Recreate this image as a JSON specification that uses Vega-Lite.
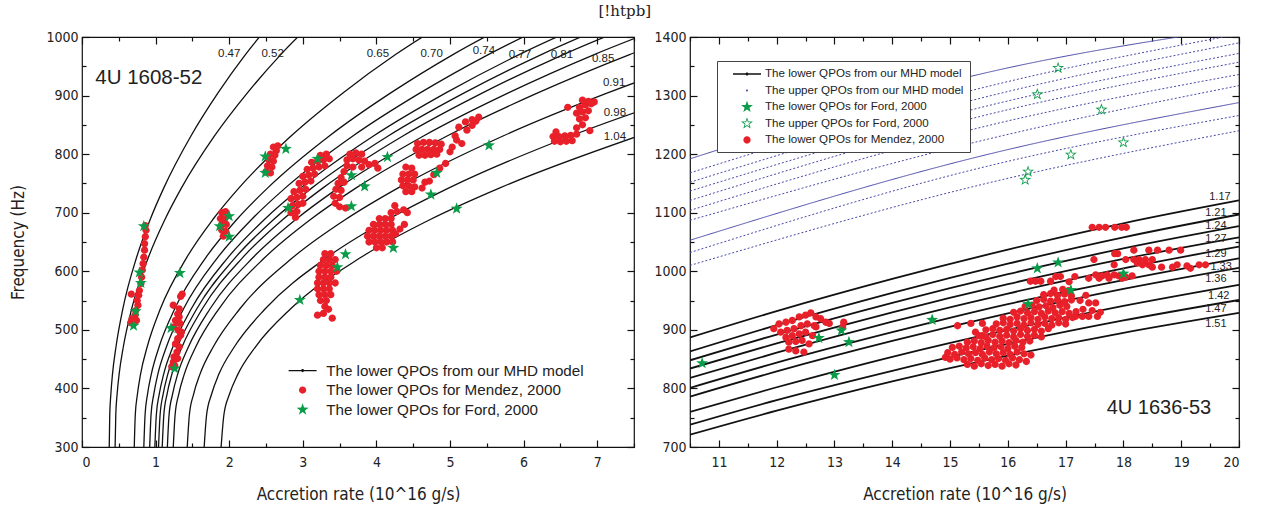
{
"$schema": "https://vega.github.io/schema/vega-lite/v6.json",
"padding": {"left": 9, "top": 4, "right": 5, "bottom": 5},
"title": {"text": "[!htpb]", "font": "DejaVu Serif", "fontSize": 15, "fontWeight": "normal", "color": "#222", "offset": 10, "anchor": "middle"},
"config": {
 "view": {"stroke": "#111", "strokeWidth": 1.2},
 "axis": {"grid": false, "domain": false, "labelFont": "Liberation Sans Narrow, DejaVu Sans Condensed, Liberation Sans", "labelFontSize": 14, "labelColor": "#222", "titleFont": "Liberation Sans Narrow, DejaVu Sans Condensed, Liberation Sans", "titleFontSize": 17, "titleFontWeight": "normal", "titleColor": "#222", "tickColor": "#111", "tickWidth": 1.2},
 "legend": {"labelFont": "Liberation Sans", "labelColor": "#222", "symbolStrokeWidth": 0, "symbolSize": 196, "labelLimit": 0}
},
"datasets": {
 "lc": [
  {"c":1,"x":0.37,"y":300},{"c":1,"x":0.377,"y":355},{"c":1,"x":0.392,"y":390},{"c":1,"x":0.414,"y":424},{"c":1,"x":0.463,"y":472},{"c":1,"x":0.555,"y":536},{"c":1,"x":0.74,"y":623},{"c":1,"x":0.925,"y":688},{"c":1,"x":1.11,"y":742},{"c":1,"x":1.48,"y":831},{"c":1,"x":1.85,"y":905},{"c":1,"x":2.22,"y":970},{"c":1,"x":2.59,"y":1027},
  {"c":2,"x":0.45,"y":300},{"c":2,"x":0.459,"y":355},{"c":2,"x":0.477,"y":390},{"c":2,"x":0.504,"y":424},{"c":2,"x":0.563,"y":472},{"c":2,"x":0.675,"y":536},{"c":2,"x":0.9,"y":623},{"c":2,"x":1.125,"y":688},{"c":2,"x":1.35,"y":742},{"c":2,"x":1.8,"y":831},{"c":2,"x":2.25,"y":905},{"c":2,"x":2.7,"y":970},{"c":2,"x":3.15,"y":1027},
  {"c":3,"x":0.71,"y":300},{"c":3,"x":0.724,"y":355},{"c":3,"x":0.753,"y":390},{"c":3,"x":0.795,"y":424},{"c":3,"x":0.888,"y":472},{"c":3,"x":1.065,"y":536},{"c":3,"x":1.42,"y":623},{"c":3,"x":1.775,"y":688},{"c":3,"x":2.13,"y":742},{"c":3,"x":2.84,"y":831},{"c":3,"x":3.55,"y":905},{"c":3,"x":4.26,"y":970},{"c":3,"x":4.97,"y":1027},
  {"c":4,"x":0.84,"y":300},{"c":4,"x":0.857,"y":355},{"c":4,"x":0.89,"y":390},{"c":4,"x":0.941,"y":424},{"c":4,"x":1.05,"y":472},{"c":4,"x":1.26,"y":536},{"c":4,"x":1.68,"y":623},{"c":4,"x":2.1,"y":688},{"c":4,"x":2.52,"y":742},{"c":4,"x":3.36,"y":831},{"c":4,"x":4.2,"y":905},{"c":4,"x":5.04,"y":970},{"c":4,"x":5.88,"y":1027},
  {"c":5,"x":0.92,"y":300},{"c":5,"x":0.938,"y":355},{"c":5,"x":0.975,"y":390},{"c":5,"x":1.03,"y":424},{"c":5,"x":1.15,"y":472},{"c":5,"x":1.38,"y":536},{"c":5,"x":1.84,"y":623},{"c":5,"x":2.3,"y":688},{"c":5,"x":2.76,"y":742},{"c":5,"x":3.68,"y":831},{"c":5,"x":4.6,"y":905},{"c":5,"x":5.52,"y":970},{"c":5,"x":6.44,"y":1027},
  {"c":6,"x":0.99,"y":300},{"c":6,"x":1.01,"y":355},{"c":6,"x":1.049,"y":390},{"c":6,"x":1.109,"y":424},{"c":6,"x":1.238,"y":472},{"c":6,"x":1.485,"y":536},{"c":6,"x":1.98,"y":623},{"c":6,"x":2.475,"y":688},{"c":6,"x":2.97,"y":742},{"c":6,"x":3.96,"y":831},{"c":6,"x":4.95,"y":905},{"c":6,"x":5.94,"y":970},{"c":6,"x":6.93,"y":1027},
  {"c":7,"x":1.04,"y":300},{"c":7,"x":1.061,"y":355},{"c":7,"x":1.102,"y":390},{"c":7,"x":1.165,"y":424},{"c":7,"x":1.3,"y":472},{"c":7,"x":1.56,"y":536},{"c":7,"x":2.08,"y":623},{"c":7,"x":2.6,"y":688},{"c":7,"x":3.12,"y":742},{"c":7,"x":4.16,"y":831},{"c":7,"x":5.2,"y":905},{"c":7,"x":6.24,"y":970},{"c":7,"x":7.28,"y":1027},
  {"c":8,"x":1.09,"y":300},{"c":8,"x":1.112,"y":355},{"c":8,"x":1.155,"y":390},{"c":8,"x":1.221,"y":424},{"c":8,"x":1.363,"y":472},{"c":8,"x":1.635,"y":536},{"c":8,"x":2.18,"y":623},{"c":8,"x":2.725,"y":688},{"c":8,"x":3.27,"y":742},{"c":8,"x":4.36,"y":831},{"c":8,"x":5.45,"y":905},{"c":8,"x":6.54,"y":970},{"c":8,"x":7.63,"y":1027},
  {"c":9,"x":1.16,"y":300},{"c":9,"x":1.183,"y":355},{"c":9,"x":1.23,"y":390},{"c":9,"x":1.299,"y":424},{"c":9,"x":1.45,"y":472},{"c":9,"x":1.74,"y":536},{"c":9,"x":2.32,"y":623},{"c":9,"x":2.9,"y":688},{"c":9,"x":3.48,"y":742},{"c":9,"x":4.64,"y":831},{"c":9,"x":5.8,"y":905},{"c":9,"x":6.96,"y":970},{"c":9,"x":8.12,"y":1027},
  {"c":10,"x":1.24,"y":300},{"c":10,"x":1.265,"y":355},{"c":10,"x":1.314,"y":390},{"c":10,"x":1.389,"y":424},{"c":10,"x":1.55,"y":472},{"c":10,"x":1.86,"y":536},{"c":10,"x":2.48,"y":623},{"c":10,"x":3.1,"y":688},{"c":10,"x":3.72,"y":742},{"c":10,"x":4.96,"y":831},{"c":10,"x":6.2,"y":905},{"c":10,"x":7.44,"y":970},{"c":10,"x":8.68,"y":1027},
  {"c":11,"x":1.43,"y":300},{"c":11,"x":1.459,"y":355},{"c":11,"x":1.516,"y":390},{"c":11,"x":1.602,"y":424},{"c":11,"x":1.788,"y":472},{"c":11,"x":2.145,"y":536},{"c":11,"x":2.86,"y":623},{"c":11,"x":3.575,"y":688},{"c":11,"x":4.29,"y":742},{"c":11,"x":5.72,"y":831},{"c":11,"x":7.15,"y":905},{"c":11,"x":8.58,"y":970},
  {"c":12,"x":1.66,"y":300},{"c":12,"x":1.693,"y":355},{"c":12,"x":1.76,"y":390},{"c":12,"x":1.859,"y":424},{"c":12,"x":2.075,"y":472},{"c":12,"x":2.49,"y":536},{"c":12,"x":3.32,"y":623},{"c":12,"x":4.15,"y":688},{"c":12,"x":4.98,"y":742},{"c":12,"x":6.64,"y":831},{"c":12,"x":8.3,"y":905},
  {"c":13,"x":1.89,"y":300},{"c":13,"x":1.928,"y":355},{"c":13,"x":2.003,"y":390},{"c":13,"x":2.117,"y":424},{"c":13,"x":2.363,"y":472},{"c":13,"x":2.835,"y":536},{"c":13,"x":3.78,"y":623},{"c":13,"x":4.725,"y":688},{"c":13,"x":5.67,"y":742},{"c":13,"x":7.56,"y":831}
 ],
 "lp": [
  {"s":"me","x":0.86,"y":678},{"s":"me","x":0.87,"y":670},{"s":"me","x":0.86,"y":659},{"s":"me","x":0.85,"y":647},{"s":"me","x":0.85,"y":636},{"s":"me","x":0.84,"y":624},{"s":"me","x":0.83,"y":613},{"s":"me","x":0.82,"y":602},{"s":"me","x":0.81,"y":590},{"s":"me","x":0.8,"y":579},{"s":"me","x":0.78,"y":567},{"s":"me","x":0.77,"y":559},{"s":"me","x":0.67,"y":561},{"s":"me","x":0.75,"y":550},{"s":"me","x":0.76,"y":542},{"s":"me","x":0.73,"y":533},{"s":"me","x":0.72,"y":525},{"s":"me","x":0.68,"y":519},{"s":"me","x":0.66,"y":512},{"s":"me","x":0.74,"y":516},
  {"s":"me","x":1.36,"y":561},{"s":"me","x":1.34,"y":557},{"s":"me","x":1.24,"y":542},{"s":"me","x":1.32,"y":536},{"s":"me","x":1.3,"y":527},{"s":"me","x":1.32,"y":522},{"s":"me","x":1.27,"y":516},{"s":"me","x":1.33,"y":511},{"s":"me","x":1.25,"y":505},{"s":"me","x":1.31,"y":499},{"s":"me","x":1.35,"y":496},{"s":"me","x":1.34,"y":491},{"s":"me","x":1.3,"y":485},{"s":"me","x":1.27,"y":476},{"s":"me","x":1.32,"y":471},{"s":"me","x":1.29,"y":462},{"s":"me","x":1.25,"y":454},{"s":"me","x":1.3,"y":451},{"s":"me","x":1.24,"y":445},{"s":"me","x":1.26,"y":439},{"s":"me","x":1.22,"y":437},
  {"s":"me","x":1.9,"y":700},{"s":"me","x":1.95,"y":702},{"s":"me","x":1.88,"y":690},{"s":"me","x":1.94,"y":690},{"s":"me","x":1.9,"y":680},{"s":"me","x":1.96,"y":680},{"s":"me","x":1.9,"y":670},{"s":"me","x":1.95,"y":668},{"s":"me","x":1.92,"y":660},
  {"s":"me","x":2.6,"y":812},{"s":"me","x":2.64,"y":806},{"s":"me","x":2.56,"y":800},{"s":"me","x":2.62,"y":798},{"s":"me","x":2.54,"y":790},{"s":"me","x":2.6,"y":788},{"s":"me","x":2.52,"y":780},{"s":"me","x":2.58,"y":778},{"s":"me","x":2.5,"y":770},{"s":"me","x":2.56,"y":768},{"s":"me","x":2.66,"y":814},
  {"s":"me","x":2.9,"y":692},{"s":"me","x":2.84,"y":700},{"s":"me","x":2.92,"y":702},{"s":"me","x":2.86,"y":712},{"s":"me","x":2.94,"y":714},{"s":"me","x":3.0,"y":716},{"s":"me","x":2.84,"y":724},{"s":"me","x":2.92,"y":726},{"s":"me","x":3.0,"y":728},{"s":"me","x":2.88,"y":736},{"s":"me","x":2.96,"y":738},{"s":"me","x":3.04,"y":740},{"s":"me","x":2.95,"y":750},{"s":"me","x":3.03,"y":752},{"s":"me","x":3.11,"y":754},{"s":"me","x":3.0,"y":762},{"s":"me","x":3.08,"y":764},{"s":"me","x":3.16,"y":766},{"s":"me","x":3.06,"y":774},{"s":"me","x":3.14,"y":776},{"s":"me","x":3.22,"y":778},{"s":"me","x":3.12,"y":786},{"s":"me","x":3.2,"y":788},{"s":"me","x":3.28,"y":790},{"s":"me","x":3.24,"y":798},{"s":"me","x":3.32,"y":800},{"s":"me","x":3.36,"y":792},{"s":"me","x":3.3,"y":780},
  {"s":"me","x":3.64,"y":800},{"s":"me","x":3.72,"y":802},{"s":"me","x":3.8,"y":800},{"s":"me","x":3.6,"y":790},{"s":"me","x":3.68,"y":792},{"s":"me","x":3.76,"y":790},{"s":"me","x":3.84,"y":788},{"s":"me","x":3.6,"y":780},{"s":"me","x":3.68,"y":778},{"s":"me","x":3.8,"y":778},{"s":"me","x":3.56,"y":770},{"s":"me","x":3.52,"y":760},{"s":"me","x":3.48,"y":750},{"s":"me","x":3.56,"y":752},{"s":"me","x":3.45,"y":740},{"s":"me","x":3.52,"y":738},{"s":"me","x":3.42,"y":728},{"s":"me","x":3.5,"y":726},{"s":"me","x":3.44,"y":716},{"s":"me","x":3.5,"y":710},{"s":"me","x":3.58,"y":708},{"s":"me","x":3.98,"y":784},{"s":"me","x":4.02,"y":776},{"s":"me","x":3.9,"y":782},
  {"s":"me","x":4.56,"y":818},{"s":"me","x":4.64,"y":820},{"s":"me","x":4.72,"y":820},{"s":"me","x":4.8,"y":819},{"s":"me","x":4.88,"y":817},{"s":"me","x":4.54,"y":808},{"s":"me","x":4.62,"y":808},{"s":"me","x":4.7,"y":808},{"s":"me","x":4.78,"y":808},{"s":"me","x":4.86,"y":808},{"s":"me","x":4.58,"y":798},{"s":"me","x":4.66,"y":798},{"s":"me","x":4.74,"y":799},{"s":"me","x":4.82,"y":800},
  {"s":"me","x":4.4,"y":778},{"s":"me","x":4.48,"y":776},{"s":"me","x":4.36,"y":766},{"s":"me","x":4.44,"y":766},{"s":"me","x":4.52,"y":766},{"s":"me","x":4.34,"y":756},{"s":"me","x":4.42,"y":756},{"s":"me","x":4.5,"y":756},{"s":"me","x":4.36,"y":746},{"s":"me","x":4.44,"y":746},{"s":"me","x":4.52,"y":744},{"s":"me","x":4.4,"y":736},{"s":"me","x":4.48,"y":736},{"s":"me","x":4.62,"y":742},{"s":"me","x":4.66,"y":752},
  {"s":"me","x":4.72,"y":754},{"s":"me","x":4.78,"y":765},{"s":"me","x":4.86,"y":776},{"s":"me","x":4.94,"y":784},
  {"s":"me","x":5.0,"y":804},{"s":"me","x":5.03,"y":812},{"s":"me","x":5.16,"y":818},{"s":"me","x":5.09,"y":824},{"s":"me","x":5.07,"y":831},{"s":"me","x":5.23,"y":841},{"s":"me","x":5.12,"y":846},{"s":"me","x":5.3,"y":849},{"s":"me","x":5.21,"y":855},{"s":"me","x":5.3,"y":859},{"s":"me","x":5.39,"y":863},{"s":"me","x":5.35,"y":856},
  {"s":"me","x":4.2,"y":700},{"s":"me","x":4.28,"y":702},{"s":"me","x":4.04,"y":690},{"s":"me","x":4.12,"y":690},{"s":"me","x":4.2,"y":690},{"s":"me","x":3.96,"y":680},{"s":"me","x":4.04,"y":680},{"s":"me","x":4.12,"y":680},{"s":"me","x":4.2,"y":680},{"s":"me","x":3.9,"y":670},{"s":"me","x":3.98,"y":670},{"s":"me","x":4.06,"y":670},{"s":"me","x":4.14,"y":670},{"s":"me","x":4.22,"y":670},{"s":"me","x":3.88,"y":660},{"s":"me","x":3.96,"y":660},{"s":"me","x":4.04,"y":660},{"s":"me","x":4.12,"y":660},{"s":"me","x":4.2,"y":660},{"s":"me","x":3.9,"y":650},{"s":"me","x":3.98,"y":650},{"s":"me","x":4.06,"y":650},{"s":"me","x":4.14,"y":650},{"s":"me","x":4.0,"y":640},{"s":"me","x":4.08,"y":640},{"s":"me","x":4.37,"y":705},{"s":"me","x":4.42,"y":700},{"s":"me","x":4.26,"y":664},{"s":"me","x":4.32,"y":672},{"s":"me","x":4.38,"y":680},{"s":"me","x":4.22,"y":650},{"s":"me","x":4.25,"y":712},
  {"s":"me","x":3.3,"y":630},{"s":"me","x":3.38,"y":630},{"s":"me","x":3.28,"y":620},{"s":"me","x":3.36,"y":620},{"s":"me","x":3.44,"y":620},{"s":"me","x":3.24,"y":610},{"s":"me","x":3.32,"y":610},{"s":"me","x":3.4,"y":610},{"s":"me","x":3.22,"y":600},{"s":"me","x":3.3,"y":600},{"s":"me","x":3.38,"y":600},{"s":"me","x":3.46,"y":600},{"s":"me","x":3.22,"y":590},{"s":"me","x":3.3,"y":590},{"s":"me","x":3.38,"y":590},{"s":"me","x":3.2,"y":580},{"s":"me","x":3.28,"y":580},{"s":"me","x":3.36,"y":580},{"s":"me","x":3.44,"y":580},{"s":"me","x":3.2,"y":570},{"s":"me","x":3.28,"y":570},{"s":"me","x":3.36,"y":570},{"s":"me","x":3.22,"y":560},{"s":"me","x":3.3,"y":560},{"s":"me","x":3.38,"y":560},{"s":"me","x":3.24,"y":550},{"s":"me","x":3.32,"y":550},{"s":"me","x":3.3,"y":540},{"s":"me","x":3.2,"y":525},{"s":"me","x":3.28,"y":528},{"s":"me","x":3.4,"y":520},{"s":"me","x":3.35,"y":535},
  {"s":"me","x":6.4,"y":830},{"s":"me","x":6.48,"y":830},{"s":"me","x":6.56,"y":831},{"s":"me","x":6.64,"y":832},{"s":"me","x":6.72,"y":834},{"s":"me","x":6.42,"y":822},{"s":"me","x":6.5,"y":821},{"s":"me","x":6.58,"y":822},{"s":"me","x":6.66,"y":823},{"s":"me","x":6.44,"y":838},{"s":"me","x":6.72,"y":845},{"s":"me","x":6.8,"y":850},{"s":"me","x":6.76,"y":860},{"s":"me","x":6.84,"y":862},{"s":"me","x":6.72,"y":870},{"s":"me","x":6.8,"y":872},{"s":"me","x":6.88,"y":874},{"s":"me","x":6.76,"y":880},{"s":"me","x":6.84,"y":884},{"s":"me","x":6.92,"y":886},{"s":"me","x":6.8,"y":892},{"s":"me","x":6.88,"y":890},{"s":"me","x":6.96,"y":889},{"s":"me","x":6.6,"y":880},{"s":"me","x":6.9,"y":840},
  {"s":"f","x":0.84,"y":677},{"s":"f","x":0.78,"y":598},{"s":"f","x":0.8,"y":580},{"s":"f","x":0.73,"y":532},{"s":"f","x":0.7,"y":507},{"s":"f","x":1.33,"y":597},{"s":"f","x":1.21,"y":503},{"s":"f","x":1.26,"y":434},{"s":"f","x":1.87,"y":677},{"s":"f","x":2.0,"y":694},{"s":"f","x":2.0,"y":659},{"s":"f","x":2.49,"y":796},{"s":"f","x":2.49,"y":768},{"s":"f","x":2.77,"y":809},{"s":"f","x":2.8,"y":708},{"s":"f","x":3.2,"y":792},{"s":"f","x":3.66,"y":764},{"s":"f","x":3.84,"y":745},{"s":"f","x":3.66,"y":711},{"s":"f","x":4.15,"y":795},{"s":"f","x":4.82,"y":768},{"s":"f","x":4.74,"y":731},{"s":"f","x":5.53,"y":815},{"s":"f","x":5.09,"y":707},{"s":"f","x":3.58,"y":629},{"s":"f","x":3.47,"y":607},{"s":"f","x":4.23,"y":640},{"s":"f","x":2.96,"y":551}
 ],
 "lt": [
  {"t":"0.47","x":2.0,"y":971},{"t":"0.52","x":2.59,"y":971},{"t":"0.65","x":4.02,"y":971},{"t":"0.70","x":4.75,"y":971},{"t":"0.74","x":5.46,"y":976},{"t":"0.77","x":5.95,"y":969},{"t":"0.81","x":6.52,"y":969},{"t":"0.85","x":7.08,"y":962},{"t":"0.91","x":7.23,"y":921},{"t":"0.98","x":7.24,"y":870},{"t":"1.04","x":7.24,"y":829}
 ],
 "rl": [
  {"c":1,"x":10.5,"y":887},{"c":1,"x":12,"y":932},{"c":1,"x":14,"y":987},{"c":1,"x":16,"y":1037},{"c":1,"x":18,"y":1082},{"c":1,"x":20,"y":1121},
  {"c":2,"x":10.5,"y":863},{"c":2,"x":12,"y":908},{"c":2,"x":14,"y":963},{"c":2,"x":16,"y":1013},{"c":2,"x":18,"y":1058},{"c":2,"x":20,"y":1097},
  {"c":3,"x":10.5,"y":848},{"c":3,"x":12,"y":892},{"c":3,"x":14,"y":946},{"c":3,"x":16,"y":995},{"c":3,"x":18,"y":1039},{"c":3,"x":20,"y":1077},
  {"c":4,"x":10.5,"y":834},{"c":4,"x":12,"y":877},{"c":4,"x":14,"y":930},{"c":4,"x":16,"y":978},{"c":4,"x":18,"y":1021},{"c":4,"x":20,"y":1058},
  {"c":5,"x":10.5,"y":818},{"c":5,"x":12,"y":861},{"c":5,"x":14,"y":914},{"c":5,"x":16,"y":962},{"c":5,"x":18,"y":1005},{"c":5,"x":20,"y":1042},
  {"c":6,"x":10.5,"y":801},{"c":6,"x":12,"y":844},{"c":6,"x":14,"y":896},{"c":6,"x":16,"y":944},{"c":6,"x":18,"y":985},{"c":6,"x":20,"y":1022},
  {"c":7,"x":10.5,"y":786},{"c":7,"x":12,"y":829},{"c":7,"x":14,"y":881},{"c":7,"x":16,"y":928},{"c":7,"x":18,"y":970},{"c":7,"x":20,"y":1006},
  {"c":8,"x":10.5,"y":760},{"c":8,"x":12,"y":802},{"c":8,"x":14,"y":854},{"c":8,"x":16,"y":900},{"c":8,"x":18,"y":941},{"c":8,"x":20,"y":977},
  {"c":9,"x":10.5,"y":738},{"c":9,"x":12,"y":780},{"c":9,"x":14,"y":830},{"c":9,"x":16,"y":876},{"c":9,"x":18,"y":916},{"c":9,"x":20,"y":951},
  {"c":10,"x":10.5,"y":721},{"c":10,"x":12,"y":762},{"c":10,"x":14,"y":812},{"c":10,"x":16,"y":856},{"c":10,"x":18,"y":895},{"c":10,"x":20,"y":929}
 ],
 "rb": [
  {"c":"S1","st":"solid","x":10.5,"y":1192},{"c":"S1","st":"solid","x":15.67,"y":1340},{"c":"S1","st":"solid","x":20,"y":1416},
  {"c":"D1","st":"dot","x":10.5,"y":1168},{"c":"D1","st":"dot","x":15.67,"y":1316},{"c":"D1","st":"dot","x":20,"y":1405},
  {"c":"D2","st":"dot","x":10.5,"y":1152},{"c":"D2","st":"dot","x":15.67,"y":1299},{"c":"D2","st":"dot","x":20,"y":1390},
  {"c":"D3","st":"dot","x":10.5,"y":1137},{"c":"D3","st":"dot","x":15.67,"y":1283},{"c":"D3","st":"dot","x":20,"y":1372},
  {"c":"D4","st":"dot","x":10.5,"y":1121},{"c":"D4","st":"dot","x":15.67,"y":1268},{"c":"D4","st":"dot","x":20,"y":1357},
  {"c":"D5","st":"dot","x":10.5,"y":1104},{"c":"D5","st":"dot","x":15.67,"y":1249},{"c":"D5","st":"dot","x":20,"y":1336},
  {"c":"D6","st":"dot","x":10.5,"y":1087},{"c":"D6","st":"dot","x":15.67,"y":1226},{"c":"D6","st":"dot","x":20,"y":1317},
  {"c":"S2","st":"solid","x":10.5,"y":1053},{"c":"S2","st":"solid","x":15.67,"y":1200},{"c":"S2","st":"solid","x":20,"y":1288},
  {"c":"D7","st":"dot","x":10.5,"y":1032},{"c":"D7","st":"dot","x":15.67,"y":1180},{"c":"D7","st":"dot","x":20,"y":1266},
  {"c":"D8","st":"dot","x":10.5,"y":1010},{"c":"D8","st":"dot","x":15.67,"y":1151},{"c":"D8","st":"dot","x":20,"y":1240}
 ],
 "rp": [
  {"s":"me","x":11.95,"y":902},{"s":"me","x":12.04,"y":910},{"s":"me","x":12.16,"y":913},{"s":"me","x":12.27,"y":916},{"s":"me","x":12.39,"y":922},{"s":"me","x":12.5,"y":925},{"s":"me","x":12.59,"y":929},{"s":"me","x":12.68,"y":922},{"s":"me","x":12.76,"y":919},{"s":"me","x":12.85,"y":913},{"s":"me","x":12.91,"y":911},{"s":"me","x":12.07,"y":896},{"s":"me","x":12.18,"y":899},{"s":"me","x":12.3,"y":902},{"s":"me","x":12.42,"y":907},{"s":"me","x":12.53,"y":910},{"s":"me","x":12.65,"y":907},{"s":"me","x":12.16,"y":887},{"s":"me","x":12.27,"y":890},{"s":"me","x":12.39,"y":893},{"s":"me","x":12.5,"y":896},{"s":"me","x":12.62,"y":890},{"s":"me","x":12.21,"y":879},{"s":"me","x":12.33,"y":880},{"s":"me","x":12.44,"y":882},{"s":"me","x":12.56,"y":876},{"s":"me","x":12.21,"y":867},{"s":"me","x":12.33,"y":864},{"s":"me","x":12.47,"y":862},{"s":"me","x":12.68,"y":905},{"s":"me","x":13.16,"y":913},{"s":"me","x":13.14,"y":905},
  {"s":"me","x":17.46,"y":1075},{"s":"me","x":17.58,"y":1075},{"s":"me","x":17.69,"y":1075},{"s":"me","x":17.85,"y":1075},{"s":"me","x":17.97,"y":1075},{"s":"me","x":18.05,"y":1075},
  {"s":"me","x":18.18,"y":1036},{"s":"me","x":18.44,"y":1036},{"s":"me","x":18.59,"y":1036},{"s":"me","x":18.79,"y":1036},{"s":"me","x":18.99,"y":1036},{"s":"me","x":17.85,"y":1030},{"s":"me","x":17.9,"y":1030},{"s":"me","x":17.49,"y":1020},{"s":"me","x":18.04,"y":1020},{"s":"me","x":18.18,"y":1020},{"s":"me","x":18.27,"y":1020},{"s":"me","x":18.38,"y":1020},{"s":"me","x":18.5,"y":1020},{"s":"me","x":17.84,"y":1011},{"s":"me","x":18.24,"y":1014},{"s":"me","x":18.33,"y":1011},{"s":"me","x":18.44,"y":1011},{"s":"me","x":18.5,"y":1007},{"s":"me","x":18.66,"y":1007},{"s":"me","x":18.85,"y":1007},{"s":"me","x":18.93,"y":1011},{"s":"me","x":19.1,"y":1009},{"s":"me","x":19.16,"y":1005},{"s":"me","x":19.31,"y":1011},{"s":"me","x":19.42,"y":1011},
  {"s":"me","x":17.4,"y":988},{"s":"me","x":17.52,"y":994},{"s":"me","x":17.58,"y":988},{"s":"me","x":17.63,"y":992},{"s":"me","x":17.72,"y":994},{"s":"me","x":17.75,"y":988},{"s":"me","x":17.84,"y":994},{"s":"me","x":17.92,"y":992},{"s":"me","x":17.98,"y":988},{"s":"me","x":18.04,"y":990},{"s":"me","x":18.15,"y":992},
  {"s":"me","x":16.39,"y":983},{"s":"me","x":16.48,"y":983},{"s":"me","x":16.57,"y":983},{"s":"me","x":16.74,"y":983},{"s":"me","x":16.83,"y":991},{"s":"me","x":16.91,"y":991},{"s":"me","x":17.06,"y":982},{"s":"me","x":17.16,"y":991},
  {"s":"me","x":17.35,"y":959},{"s":"me","x":17.4,"y":946},{"s":"me","x":17.52,"y":946},{"s":"me","x":17.46,"y":933},{"s":"me","x":17.6,"y":930},{"s":"me","x":17.17,"y":923},{"s":"me","x":17.29,"y":923},{"s":"me","x":17.4,"y":923},{"s":"me","x":17.55,"y":923},{"s":"me","x":17.25,"y":950},{"s":"me","x":17.3,"y":935},
  {"s":"me","x":14.92,"y":853},{"s":"me","x":15.13,"y":907},{"s":"me","x":15.36,"y":911},{"s":"me","x":15.56,"y":911},{"s":"me","x":15.44,"y":896},{"s":"me","x":15.56,"y":890},
  {"s":"me","x":15.3,"y":841},{"s":"me","x":15.42,"y":838},{"s":"me","x":15.54,"y":842},{"s":"me","x":15.66,"y":839},{"s":"me","x":15.78,"y":841},{"s":"me","x":15.9,"y":838},{"s":"me","x":16.02,"y":842},{"s":"me","x":16.14,"y":840},
  {"s":"me","x":15.0,"y":850},{"s":"me","x":15.12,"y":852},{"s":"me","x":15.24,"y":849},{"s":"me","x":15.36,"y":851},{"s":"me","x":15.48,"y":848},{"s":"me","x":15.6,"y":852},{"s":"me","x":15.72,"y":849},{"s":"me","x":15.84,"y":851},{"s":"me","x":15.96,"y":848},{"s":"me","x":16.08,"y":852},{"s":"me","x":16.2,"y":849},{"s":"me","x":16.32,"y":846},
  {"s":"me","x":14.96,"y":861},{"s":"me","x":15.08,"y":858},{"s":"me","x":15.2,"y":862},{"s":"me","x":15.32,"y":859},{"s":"me","x":15.44,"y":861},{"s":"me","x":15.56,"y":858},{"s":"me","x":15.68,"y":862},{"s":"me","x":15.8,"y":859},{"s":"me","x":15.92,"y":861},{"s":"me","x":16.04,"y":858},{"s":"me","x":16.16,"y":862},{"s":"me","x":16.28,"y":859},{"s":"me","x":16.4,"y":857},
  {"s":"me","x":15.04,"y":870},{"s":"me","x":15.16,"y":872},{"s":"me","x":15.28,"y":869},{"s":"me","x":15.4,"y":871},{"s":"me","x":15.52,"y":868},{"s":"me","x":15.64,"y":872},{"s":"me","x":15.76,"y":869},{"s":"me","x":15.88,"y":871},{"s":"me","x":16.0,"y":868},{"s":"me","x":16.12,"y":872},{"s":"me","x":16.24,"y":870},
  {"s":"me","x":15.3,"y":879},{"s":"me","x":15.42,"y":881},{"s":"me","x":15.54,"y":878},{"s":"me","x":15.66,"y":882},{"s":"me","x":15.78,"y":879},{"s":"me","x":15.9,"y":881},{"s":"me","x":16.02,"y":878},{"s":"me","x":16.14,"y":882},{"s":"me","x":16.26,"y":879},{"s":"me","x":16.38,"y":881},
  {"s":"me","x":15.5,"y":890},{"s":"me","x":15.62,"y":888},{"s":"me","x":15.74,"y":892},{"s":"me","x":15.86,"y":889},{"s":"me","x":15.98,"y":891},{"s":"me","x":16.1,"y":888},{"s":"me","x":16.22,"y":892},{"s":"me","x":16.34,"y":889},{"s":"me","x":16.46,"y":891},{"s":"me","x":16.58,"y":888},
  {"s":"me","x":15.62,"y":900},{"s":"me","x":15.74,"y":902},{"s":"me","x":15.86,"y":899},{"s":"me","x":15.98,"y":901},{"s":"me","x":16.1,"y":898},{"s":"me","x":16.22,"y":902},{"s":"me","x":16.34,"y":899},{"s":"me","x":16.46,"y":901},{"s":"me","x":16.58,"y":898},{"s":"me","x":16.7,"y":902},
  {"s":"me","x":15.8,"y":910},{"s":"me","x":15.92,"y":912},{"s":"me","x":16.04,"y":909},{"s":"me","x":16.16,"y":911},{"s":"me","x":16.28,"y":908},{"s":"me","x":16.4,"y":912},{"s":"me","x":16.52,"y":909},{"s":"me","x":16.64,"y":911},{"s":"me","x":16.76,"y":908},{"s":"me","x":16.88,"y":912},{"s":"me","x":17.0,"y":910},
  {"s":"me","x":15.92,"y":920},{"s":"me","x":16.04,"y":918},{"s":"me","x":16.16,"y":922},{"s":"me","x":16.28,"y":919},{"s":"me","x":16.4,"y":921},{"s":"me","x":16.52,"y":918},{"s":"me","x":16.64,"y":922},{"s":"me","x":16.76,"y":919},{"s":"me","x":16.88,"y":921},{"s":"me","x":17.0,"y":918},{"s":"me","x":17.12,"y":921},
  {"s":"me","x":16.1,"y":930},{"s":"me","x":16.22,"y":932},{"s":"me","x":16.34,"y":929},{"s":"me","x":16.46,"y":931},{"s":"me","x":16.58,"y":928},{"s":"me","x":16.7,"y":932},{"s":"me","x":16.82,"y":929},{"s":"me","x":16.94,"y":931},{"s":"me","x":17.06,"y":928},{"s":"me","x":17.18,"y":931},
  {"s":"me","x":16.3,"y":940},{"s":"me","x":16.42,"y":942},{"s":"me","x":16.54,"y":939},{"s":"me","x":16.66,"y":941},{"s":"me","x":16.78,"y":938},{"s":"me","x":16.9,"y":942},{"s":"me","x":17.02,"y":940},
  {"s":"me","x":16.5,"y":950},{"s":"me","x":16.62,"y":952},{"s":"me","x":16.74,"y":949},{"s":"me","x":16.86,"y":951},{"s":"me","x":16.98,"y":948},{"s":"me","x":17.1,"y":951},
  {"s":"me","x":16.62,"y":960},{"s":"me","x":16.74,"y":962},{"s":"me","x":16.86,"y":959},{"s":"me","x":16.98,"y":961},{"s":"me","x":17.1,"y":958},
  {"s":"me","x":16.8,"y":968},{"s":"me","x":16.95,"y":969},{"s":"me","x":17.05,"y":967},
  {"s":"f","x":10.71,"y":843},{"s":"f","x":12.73,"y":886},{"s":"f","x":13.12,"y":899},{"s":"f","x":13.25,"y":879},{"s":"f","x":13.0,"y":823},{"s":"f","x":14.69,"y":917},{"s":"f","x":16.51,"y":1005},{"s":"f","x":16.87,"y":1015},{"s":"f","x":17.09,"y":968},{"s":"f","x":16.35,"y":944},{"s":"f","x":18.0,"y":996},
  {"s":"fu","x":16.87,"y":1347},{"s":"fu","x":16.51,"y":1302},{"s":"fu","x":17.62,"y":1276},{"s":"fu","x":18.0,"y":1220},{"s":"fu","x":17.09,"y":1199},{"s":"fu","x":16.35,"y":1170},{"s":"fu","x":16.3,"y":1156}
 ],
 "rt": [
  {"t":"1.17","x":19.67,"y":1127},{"t":"1.21","x":19.6,"y":1099},{"t":"1.24","x":19.6,"y":1077},{"t":"1.27","x":19.6,"y":1055},{"t":"1.29","x":19.6,"y":1030},{"t":"1.33","x":19.69,"y":1008},{"t":"1.36","x":19.6,"y":986},{"t":"1.42","x":19.65,"y":957},{"t":"1.47","x":19.6,"y":935},{"t":"1.51","x":19.6,"y":910}
 ]
},
"spacing": 17,
"hconcat": [
 {
  "width": 552, "height": 410,
  "layer": [
   {"data": {"name": "lc"},
    "mark": {"type": "line", "interpolate": "monotone", "clip": true, "stroke": "#111", "strokeWidth": 1.3},
    "encoding": {
     "x": {"field": "x", "type": "quantitative", "scale": {"domain": [0, 7.5], "nice": false, "zero": false},
      "axis": {"orient": "bottom", "values": [0,0.5,1,1.5,2,2.5,3,3.5,4,4.5,5,5.5,6,6.5,7,7.5], "labelExpr": "datum.value % 1 === 0 ? '' + datum.value : ''", "tickSize": {"condition": {"test": "datum.value % 1 === 0", "value": -7}, "value": -4}, "labelPadding": 15, "title": "Accretion rate (10^16 g/s)", "titlePadding": 17}},
     "y": {"field": "y", "type": "quantitative", "scale": {"domain": [300, 1000], "nice": false, "zero": false},
      "axis": {"orient": "left", "values": [300,350,400,450,500,550,600,650,700,750,800,850,900,950,1000], "labelExpr": "datum.value % 100 === 0 ? '' + datum.value : ''", "tickSize": {"condition": {"test": "datum.value % 100 === 0", "value": -7}, "value": -4}, "labelPadding": 11, "title": "Frequency (Hz)", "titlePadding": 18}},
     "detail": {"field": "c", "type": "nominal"}
    }},
   {"data": {"name": "lp"},
    "mark": {"type": "point", "filled": true, "size": 196, "opacity": 1, "strokeWidth": 0},
    "encoding": {
     "x": {"field": "x", "type": "quantitative", "axis": {"orient": "top", "values": [0,0.5,1,1.5,2,2.5,3,3.5,4,4.5,5,5.5,6,6.5,7,7.5], "labels": false, "title": null, "tickSize": {"condition": {"test": "datum.value % 1 === 0", "value": -7}, "value": -4}}},
     "y": {"field": "y", "type": "quantitative", "axis": {"orient": "right", "values": [300,350,400,450,500,550,600,650,700,750,800,850,900,950,1000], "labels": false, "title": null, "tickSize": {"condition": {"test": "datum.value % 100 === 0", "value": -7}, "value": -4}}},
     "color": {"field": "s", "type": "nominal", "scale": {"domain": ["m","me","f"], "range": ["#111111","#e8202a","#0b9c4a"]},
      "legend": {"title": null, "orient": "none", "legendX": 206, "legendY": 326, "labelFontSize": 15.2, "symbolOffset": 7, "labelOffset": 16, "rowPadding": 3.5, "padding": 0, "labelExpr": "datum.label == 'm' ? 'The lower QPOs from our MHD model' : datum.label == 'me' ? 'The lower QPOs for Mendez, 2000' : 'The lower QPOs for Ford, 2000'"}},
     "shape": {"field": "s", "type": "nominal", "scale": {"domain": ["m","me","f"], "range": ["M-2,-0.1H2V0.1H-2Z M-0.22,0A0.22,0.22 0 1 1 0.22,0A0.22,0.22 0 1 1 -0.22,0Z", "M-0.52,0A0.52,0.52 0 1 1 0.52,0A0.52,0.52 0 1 1 -0.52,0Z", "M0,-0.9L0.212,-0.292L0.856,-0.278L0.342,0.112L0.53,0.728L0,0.36L-0.53,0.728L-0.342,0.112L-0.856,-0.278L-0.212,-0.292Z"]},
      "legend": {"title": null, "orient": "none", "legendX": 206, "legendY": 326, "labelFontSize": 15.2, "symbolOffset": 7, "labelOffset": 16, "rowPadding": 3.5, "padding": 0, "labelExpr": "datum.label == 'm' ? 'The lower QPOs from our MHD model' : datum.label == 'me' ? 'The lower QPOs for Mendez, 2000' : 'The lower QPOs for Ford, 2000'"}}
    }},
   {"data": {"name": "lt"},
    "mark": {"type": "text", "font": "Liberation Sans", "fontSize": 11.5, "fill": "#222", "align": "center", "baseline": "middle"},
    "encoding": {"x": {"field": "x", "type": "quantitative", "axis": null}, "y": {"field": "y", "type": "quantitative", "axis": null}, "text": {"field": "t"}}},
   {"data": {"values": [{"t": "4U 1608-52", "x": 0.18, "y": 930}]},
    "mark": {"type": "text", "font": "Liberation Sans", "fontSize": 20.5, "fill": "#222", "align": "left", "baseline": "middle"},
    "encoding": {"x": {"field": "x", "type": "quantitative", "axis": null}, "y": {"field": "y", "type": "quantitative", "axis": null}, "text": {"field": "t"}}}
  ],
  "resolve": {"axis": {"x": "independent", "y": "independent"}}
 },
 {
  "width": 549, "height": 410,
  "layer": [
   {"data": {"name": "rb"},
    "mark": {"type": "line", "interpolate": "monotone", "clip": true, "stroke": "#4a4aa8", "strokeWidth": 1},
    "encoding": {
     "x": {"field": "x", "type": "quantitative", "scale": {"domain": [10.5, 20], "nice": false, "zero": false},
      "axis": {"orient": "bottom", "values": [10.5,11,11.5,12,12.5,13,13.5,14,14.5,15,15.5,16,16.5,17,17.5,18,18.5,19,19.5,20], "labelExpr": "datum.value % 1 === 0 ? '' + datum.value : ''", "tickSize": {"condition": {"test": "datum.value % 1 === 0", "value": -7}, "value": -4}, "labelPadding": 15, "title": "Accretion rate (10^16 g/s)", "titlePadding": 17}},
     "y": {"field": "y", "type": "quantitative", "scale": {"domain": [700, 1400], "nice": false, "zero": false},
      "axis": {"orient": "left", "values": [700,750,800,850,900,950,1000,1050,1100,1150,1200,1250,1300,1350,1400], "labelExpr": "datum.value % 100 === 0 ? '' + datum.value : ''", "tickSize": {"condition": {"test": "datum.value % 100 === 0", "value": -7}, "value": -4}, "labelPadding": 11, "title": null}},
     "detail": {"field": "c", "type": "nominal"},
     "strokeDash": {"field": "st", "type": "nominal", "scale": {"domain": ["solid","dot"], "range": [[1,0],[2,2]]}, "legend": null}
    }},
   {"data": {"name": "rl"},
    "mark": {"type": "line", "interpolate": "monotone", "clip": true, "stroke": "#111", "strokeWidth": 1.8},
    "encoding": {
     "x": {"field": "x", "type": "quantitative", "axis": null},
     "y": {"field": "y", "type": "quantitative", "axis": null},
     "detail": {"field": "c", "type": "nominal"}
    }},
   {"data": {"name": "rp"},
    "mark": {"type": "point", "filled": true, "size": 196, "opacity": 1, "strokeWidth": 0},
    "encoding": {
     "x": {"field": "x", "type": "quantitative", "axis": {"orient": "top", "values": [10.5,11,11.5,12,12.5,13,13.5,14,14.5,15,15.5,16,16.5,17,17.5,18,18.5,19,19.5,20], "labels": false, "title": null, "tickSize": {"condition": {"test": "datum.value % 1 === 0", "value": -7}, "value": -4}}},
     "y": {"field": "y", "type": "quantitative", "axis": {"orient": "right", "values": [700,750,800,850,900,950,1000,1050,1100,1150,1200,1250,1300,1350,1400], "labels": false, "title": null, "tickSize": {"condition": {"test": "datum.value % 100 === 0", "value": -7}, "value": -4}}},
     "color": {"field": "s", "type": "nominal", "scale": {"domain": ["m","u","f","fu","me"], "range": ["#111111","#4a4aa8","#0b9c4a","#0b9c4a","#e8202a"]},
      "legend": {"title": null, "orient": "none", "legendX": 27, "legendY": 24, "labelFontSize": 11.6, "symbolOffset": 17, "labelOffset": 11, "rowPadding": 3.5, "padding": 6, "strokeColor": "#444", "fillColor": "white", "labelExpr": "datum.label == 'm' ? 'The lower QPOs from our MHD model' : datum.label == 'u' ? 'The upper QPOs from our MHD model' : datum.label == 'f' ? 'The lower QPOs for Ford, 2000' : datum.label == 'fu' ? 'The upper QPOs for Ford, 2000' : 'The lower QPOs for Mendez, 2000'"}},
     "shape": {"field": "s", "type": "nominal", "scale": {"domain": ["m","u","f","fu","me"], "range": ["M-2,-0.1H2V0.1H-2Z M-0.22,0A0.22,0.22 0 1 1 0.22,0A0.22,0.22 0 1 1 -0.22,0Z", "M-0.14,0A0.14,0.14 0 1 1 0.14,0A0.14,0.14 0 1 1 -0.14,0Z", "M0,-0.9L0.212,-0.292L0.856,-0.278L0.342,0.112L0.53,0.728L0,0.36L-0.53,0.728L-0.342,0.112L-0.856,-0.278L-0.212,-0.292Z", "M0,-0.9L0.212,-0.292L0.856,-0.278L0.342,0.112L0.53,0.728L0,0.36L-0.53,0.728L-0.342,0.112L-0.856,-0.278L-0.212,-0.292Z M0,-0.54L-0.128,-0.176L-0.514,-0.166L-0.206,0.068L-0.318,0.436L0,0.216L0.318,0.436L0.206,0.068L0.514,-0.166L0.128,-0.176Z", "M-0.52,0A0.52,0.52 0 1 1 0.52,0A0.52,0.52 0 1 1 -0.52,0Z"]},
      "legend": {"title": null, "orient": "none", "legendX": 27, "legendY": 24, "labelFontSize": 11.6, "symbolOffset": 17, "labelOffset": 11, "rowPadding": 3.5, "padding": 6, "strokeColor": "#444", "fillColor": "white", "labelExpr": "datum.label == 'm' ? 'The lower QPOs from our MHD model' : datum.label == 'u' ? 'The upper QPOs from our MHD model' : datum.label == 'f' ? 'The lower QPOs for Ford, 2000' : datum.label == 'fu' ? 'The upper QPOs for Ford, 2000' : 'The lower QPOs for Mendez, 2000'"}}
    }},
   {"data": {"name": "rt"},
    "mark": {"type": "text", "font": "Liberation Sans", "fontSize": 11, "fill": "#222", "align": "center", "baseline": "middle"},
    "encoding": {"x": {"field": "x", "type": "quantitative", "axis": null}, "y": {"field": "y", "type": "quantitative", "axis": null}, "text": {"field": "t"}}},
   {"data": {"values": [{"t": "4U 1636-53", "x": 17.71, "y": 767}]},
    "mark": {"type": "text", "font": "Liberation Sans", "fontSize": 20, "fill": "#222", "align": "left", "baseline": "middle"},
    "encoding": {"x": {"field": "x", "type": "quantitative", "axis": null}, "y": {"field": "y", "type": "quantitative", "axis": null}, "text": {"field": "t"}}}
  ],
  "resolve": {"axis": {"x": "independent", "y": "independent"}}
 }
],
"resolve": {"scale": {"color": "independent", "shape": "independent", "strokeDash": "independent"}, "legend": {"color": "independent", "shape": "independent"}}
}
